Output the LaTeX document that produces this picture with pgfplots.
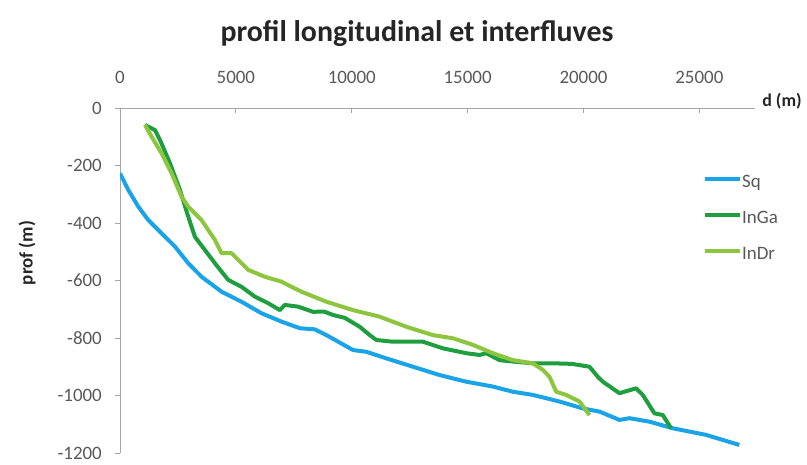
\documentclass[border=0pt]{standalone}
\usepackage{pgfplots}
\pgfplotsset{compat=1.18}
\usepackage{fontspec}
\setmainfont{Carlito}
\definecolor{sqblue}{HTML}{1AA3E6}
\definecolor{ingreen}{HTML}{1E9E3E}
\definecolor{indrgreen}{HTML}{8CC63F}
\definecolor{txtgray}{HTML}{595959}
\definecolor{axgray}{HTML}{A6A6A6}
\begin{document}
\begin{tikzpicture}
\begin{axis}[
  at={(120bp,12bp)}, anchor=south west,
  scale only axis, width=635bp, height=345bp,
  xmin=0, xmax=27400, ymin=-1200, ymax=0,
  axis x line*=top, axis y line*=left,
  axis line style={axgray, line width=0.8bp},
  every outer x axis line/.append style={-}, every outer y axis line/.append style={-},
  xtick={0,5000,...,25000}, ytick={-1200,-1000,...,0},
  scaled x ticks=false,
  tick align=outside, major tick length=5bp,
  tick style={axgray, line width=0.8bp},
  xtick style={yshift=-5bp},
  /pgf/number format/assume math mode=true,
  /pgf/number format/1000 sep={},
  ticklabel style={font=\fontsize{19}{22}\selectfont, text=txtgray, inner sep=0pt},
  xticklabel style={anchor=south, yshift=19bp},
  yticklabel style={anchor=east, xshift=-13bp},
  legend style={at={(0.918,0.809)}, anchor=north west, draw=none, fill=none,
    font=\fontsize{19}{22}\selectfont, text=txtgray, inner sep=0pt,
    row sep=19bp, nodes={inner sep=0pt, text height=13bp, text depth=4bp}},
  legend image code/.code={\draw[#1] (0bp,4bp) -- (35bp,4bp);},
  legend cell align=left,
  every axis plot/.append style={line width=4bp, line join=round},
]
\addplot[sqblue] coordinates {
(0,-227) (359,-285) (790,-343) (1221,-390) (1796,-436) (2371,-482) (2945,-540)
(3520,-587) (4382,-639) (5244,-674) (6106,-714) (6968,-743) (7759,-766) (8405,-770)
(8908,-790) (10057,-842) (10632,-848) (11494,-871) (12644,-900) (13793,-929)
(14943,-952) (16092,-969) (16954,-987) (17816,-998) (18966,-1021) (19971,-1045)
(20690,-1056) (21552,-1085) (21983,-1079) (22845,-1091) (23851,-1114) (25287,-1137)
(26724,-1172)};
\addlegendentry{Sq}
\addplot[ingreen] coordinates {
(1078,-59) (1509,-77) (1724,-111) (2155,-192) (2586,-285) (2945,-378) (3233,-448)
(3664,-494) (4095,-540) (4670,-598) (5244,-622) (5819,-656) (6394,-679) (6897,-703)
(7112,-685) (7687,-691) (8333,-709) (8800,-708) (9195,-720) (9700,-730) (10345,-761)
(10776,-790) (11063,-807) (11782,-813) (13075,-813) (13937,-836) (14943,-853)
(15517,-859) (15800,-853) (16379,-877) (16954,-882) (17816,-888) (18678,-888)
(19500,-890) (20259,-900) (20618,-935) (20833,-952) (21552,-992) (22270,-975)
(22557,-998) (23060,-1062) (23420,-1068) (23779,-1114)};
\addlegendentry{InGa}
\addplot[indrgreen] coordinates {
(1078,-59) (1365,-100) (1796,-158) (2227,-227) (2658,-309) (2945,-343) (3520,-390)
(4095,-459) (4382,-505) (4813,-505) (5532,-563) (6250,-587) (6968,-604) (7399,-622)
(7830,-639) (8908,-674) (10057,-703) (11207,-726) (12357,-761) (13506,-790)
(14368,-801) (15230,-824) (16092,-853) (16954,-877) (17816,-888) (18247,-911)
(18534,-935) (18822,-987) (19253,-998) (19828,-1021) (20259,-1068)};
\addlegendentry{InDr}
\end{axis}
\node[font=\fontsize{30}{34}\selectfont\bfseries, text={black!85}] at (417bp,431bp) {profil longitudinal et interfluves};
\node[font=\fontsize{18}{21}\selectfont\bfseries, text={black!85}, anchor=base] at (782bp,358bp) {d (m)};
\node[font=\fontsize{19}{22}\selectfont\bfseries, text={black!85}, rotate=90] at (27bp,212bp) {prof (m)};
\pgfresetboundingbox
\path[use as bounding box] (0bp,0bp) rectangle (807bp,465bp);
\end{tikzpicture}
\end{document}
